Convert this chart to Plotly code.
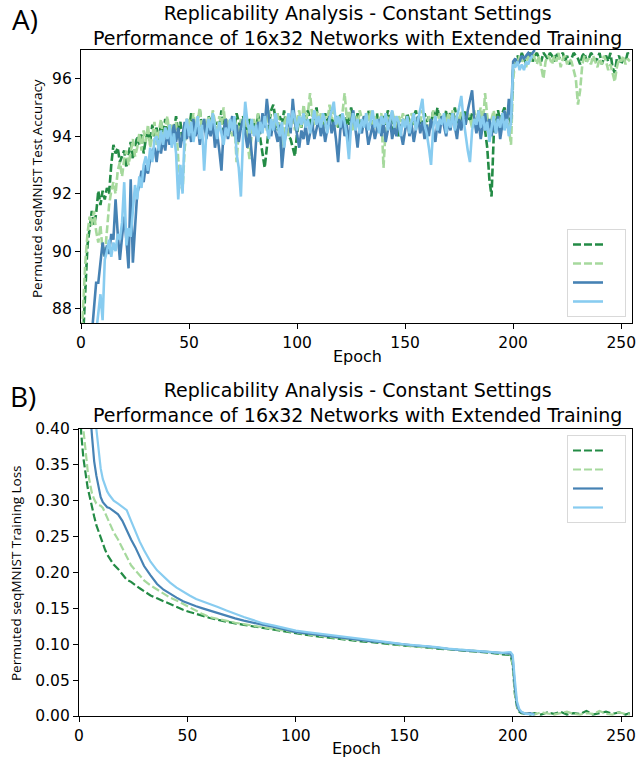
import plotly.graph_objects as go

# accuracy per epoch (0..254), None where the curve is not drawn
EPOCHS = list(range(255))

GREEN_DARK_ACC = [
    85.5, 87.0, 88.8, 90.2, 90.8, 91.4, 90.9, 91.3, 92.1, 91.6,
    92.1, 91.8, 92.2, 92.0, 93.0, 93.7, 93.4, 93.6, 93.1, 93.3,
    93.5, 92.9, 93.4, 93.8, 93.2, 93.6, 94.0, 93.7, 94.1, 93.4,
    93.9, 94.2, 93.8, 94.4, 94.0, 94.3, 93.7, 94.5, 94.1, 94.6,
    94.0, 94.4, 93.9, 94.2, 94.7, 94.1, 94.5, 93.8, 94.3, 94.6,
    94.2, 94.8, 94.4, 94.0, 94.6, 94.9, 94.3, 94.5, 94.1, 94.7,
    94.4, 94.8, 94.0, 94.5, 94.3, 94.9, 94.2, 94.6, 94.4, 94.1,
    94.6, 94.3, 94.8, 94.5, 94.2, 94.7, 94.4, 94.0, 94.6, 94.3,
    94.5, 94.1, 94.8, 93.9, 93.4, 92.9, 93.6, 94.4, 94.9, 95.1,
    94.6, 94.2, 94.7, 94.4, 94.9, 94.3, 94.0, 93.9, 93.6, 93.3,
    94.1, 94.6, 94.3, 94.8, 94.5, 94.9, 94.6, 94.2, 94.7, 95.0,
    94.4, 94.6, 94.3, 94.8, 94.5, 94.9, 94.6, 94.4, 94.7, 94.3,
    94.8, 94.5, 94.2, 94.7, 94.4, 95.0, 94.6, 94.3, 94.8, 94.5,
    94.2, 94.7, 94.5, 94.9, 94.4, 94.6, 94.3, 94.8, 94.1, 94.5,
    94.7, 94.4, 94.9, 94.6, 94.2, 94.7, 94.5, 94.0, 94.3, 94.6,
    94.4, 94.8, 94.5, 94.2, 94.7, 94.9, 94.4, 94.6, 94.3, 94.8,
    94.5, 94.7, 94.4, 94.9, 94.6, 95.0, 94.5, 94.7, 94.4, 94.9,
    94.6, 94.8, 94.5, 95.0, 94.6, 94.4, 94.8, 94.5, 94.9, 94.7,
    94.5, 94.8, 94.6, 94.3, 94.9, 94.4, 94.7, 94.2, 93.6, 92.5,
    91.9, 94.0, 94.6, 94.9, 94.5, 94.8, 95.0, 94.6, 94.9, 94.4,
    96.3, 96.7, 96.8, 96.6, 96.9, 96.7, 96.5, 96.8, 96.9, 96.6,
    96.8, 96.9, 96.7, 96.6, 96.9, 96.8, 96.7, 96.9, 96.8, 96.6,
    96.9, 96.7, 96.8, 96.9, 96.6, 96.8, 96.5, 96.7, 96.9, 96.8,
    96.7, 96.5, 96.8, 96.9, 96.6, 96.7, 96.9, 96.8, 96.6, 96.7,
    96.9, 96.5, 96.7, 96.8, 96.6, 96.9, 96.4, 96.2, 96.7, 96.8,
    96.5, 96.7, 96.6, 96.9, 96.8,
]

GREEN_LIGHT_ACC = [
    86.5, 88.2, 89.6, 90.6, 91.2, 90.9, 91.4, 90.7, 90.3, 90.9,
    90.0, 89.8, 90.6, 91.6, 92.1, 92.4, 92.0, 92.8, 93.1, 92.6,
    93.2, 93.5, 93.0, 93.4, 93.9, 93.3, 93.6, 94.1, 93.5, 94.2,
    93.8, 94.4, 93.6, 94.0, 94.5, 93.7, 94.2, 94.6, 93.9, 94.3,
    94.7, 94.0, 94.4, 93.8, 94.5, 93.2, 92.4, 92.1, 93.6, 94.2,
    94.6, 94.0, 94.8, 94.3, 94.5, 95.0, 94.2, 94.6, 94.1, 94.7,
    94.3, 94.9, 94.5, 94.1, 94.7, 94.4, 95.0, 94.2, 94.6, 94.3,
    94.0, 94.5, 93.1, 94.2, 94.6, 94.3, 94.8, 93.8, 93.2, 94.1,
    94.6, 94.3, 94.8, 94.1, 94.5, 94.7, 94.2, 94.9, 94.4, 94.6,
    94.3, 94.8, 94.1, 93.3, 94.4, 94.7, 94.0, 94.5, 94.8, 94.2,
    94.6, 94.9, 94.3, 95.1, 94.6, 94.8, 95.5, 94.7, 94.4, 94.9,
    94.5, 94.8, 94.2, 94.7, 94.4, 95.1, 94.6, 94.9, 94.3, 94.7,
    94.4, 94.8, 95.5, 94.6, 94.9, 94.5, 94.2, 94.7, 94.4, 94.9,
    94.6, 94.3, 94.8, 94.5, 94.9, 94.4, 94.7, 94.2, 94.6, 94.8,
    92.9, 94.3, 94.7, 94.4, 94.9, 94.6, 94.2, 94.7, 94.5, 94.8,
    94.4, 94.6, 94.1, 94.8, 94.5, 94.3, 94.7, 94.5, 94.9, 94.6,
    94.2, 94.7, 94.4, 94.9, 94.6, 94.3, 94.8, 94.5, 94.7, 94.4,
    94.8, 94.5, 94.9, 94.3, 94.7, 94.5, 94.9, 94.6, 94.4, 94.8,
    94.6, 94.3, 94.9, 94.5, 94.7, 95.0, 94.4, 95.5, 94.7, 94.3,
    94.6, 94.9, 94.4, 94.7, 94.2, 94.8, 94.5, 94.9, 94.3, 93.7,
    96.0, 96.6, 96.5, 96.8, 96.6, 96.7, 96.4, 96.8, 96.6, 96.9,
    96.7, 96.5, 96.8, 96.4, 96.0, 96.6, 96.8, 96.7, 96.5, 96.8,
    96.6, 96.9, 96.4, 96.7, 96.8, 96.5, 96.7, 96.6, 96.3, 96.0,
    95.1, 95.6, 96.5, 96.8, 96.6, 96.7, 96.5, 96.8, 96.6, 96.4,
    96.7, 96.5, 96.8, 96.6, 96.3, 96.5, 96.2, 95.9, 96.4, 96.7,
    96.6, 96.8, 96.5, 96.7, 96.6,
]

BLUE_DARK_ACC = [
    None, None, None, None, 86.5, 87.1, 88.0, 88.9, 88.9, 89.6,
    90.3, 89.8, 90.2, 89.9, 90.6, 90.4, 91.8, 90.6, 89.7, 90.5,
    91.2, 90.4, 89.4, 92.5, 89.6, 90.8, 92.0, 92.3, 92.8, 92.4,
    93.0, 92.7, 93.2, 93.5, 93.6, 93.1, 93.8, 93.4, 93.9, 93.5,
    94.2, 93.7, 94.0, 94.4, 93.8, 94.3, 93.6, 94.1, 94.5, 93.9,
    94.3, 93.8, 94.6, 94.0, 94.4, 93.7, 94.2, 94.6, 93.9, 94.3,
    94.0, 94.5, 93.6, 94.1, 93.5, 92.8, 94.2, 94.6, 93.9, 94.3,
    94.7, 94.0, 94.4, 93.8, 94.3, 94.6, 94.0, 93.6, 94.2, 93.4,
    92.6, 93.8, 94.5, 94.1, 94.8, 94.3, 95.3, 94.6, 94.0, 94.5,
    94.2, 93.8, 94.4, 92.9, 93.7, 94.3, 94.7, 94.1, 95.3, 94.5,
    94.0, 93.6, 94.2, 93.9, 94.4, 93.7, 94.1, 94.5, 93.9, 94.3,
    94.6, 94.0, 94.4, 93.8, 94.3, 94.7, 94.1, 94.5, 93.9, 93.1,
    94.2, 94.6, 94.0, 94.4, 93.8, 94.5, 94.9, 94.2, 93.6, 94.4,
    94.1, 94.7, 94.3, 93.7, 94.0, 94.4, 93.9, 94.3, 94.6, 94.0,
    94.5, 93.8, 94.2, 94.6, 93.9, 94.3, 94.0, 94.5, 94.1, 93.7,
    94.2, 94.6, 94.0, 94.4, 93.8, 94.3, 94.7, 94.1, 94.5, 93.9,
    94.4, 94.0, 94.6, 94.2, 93.8, 94.5, 94.1, 94.7, 94.3, 94.0,
    94.5, 94.2, 94.8, 94.3, 93.9, 94.6, 94.2, 94.8, 94.4, 94.9,
    95.2, 95.6, 94.6, 94.1, 94.5, 93.9, 94.4, 94.8, 94.2, 94.6,
    94.0, 94.5, 94.1, 94.7, 93.9, 94.4, 94.9, 94.3, 95.3, 94.6,
    96.6, 96.7, 96.5, 96.6, 96.8, 96.7, 96.8, 96.9, 96.8, 96.9,
    97.0,
]

BLUE_LIGHT_ACC = [
    None, None, None, None, None, None, 86.5, 87.2, 88.0, 88.5,
    87.6, 89.7, 90.0, 90.4, 89.8, 90.3, 90.0, 90.6, 90.4, 91.0,
    92.4, 90.2, 90.8, 90.5, 91.4, 92.3, 91.8, 92.6, 92.2, 93.0,
    93.3, 92.8, 93.6, 93.1, 93.9, 94.0, 93.5, 94.2, 93.7, 94.3,
    93.9, 94.4, 93.6, 94.1, 93.4, 91.8, 93.0, 92.0, 94.2, 94.6,
    94.0, 94.5, 93.8, 94.3, 94.7, 93.9, 94.4, 92.8, 94.1, 94.6,
    94.2, 94.8, 94.3, 93.9, 94.5, 94.1, 93.7, 94.3, 94.0, 94.6,
    94.2, 94.7, 93.4, 92.9, 91.9, 94.0, 95.2, 94.5, 94.1, 94.6,
    94.0, 94.4, 93.8, 94.5, 94.1, 94.7, 94.3, 93.9, 94.6, 94.2,
    94.8, 94.4, 94.0, 94.5, 93.6, 94.2, 94.8, 94.3, 94.9, 94.6,
    94.2, 94.7, 94.4, 94.8, 94.3, 94.6, 94.1, 94.5, 94.9, 94.4,
    94.7, 94.3, 94.8, 94.5, 94.1, 94.6, 94.9, 95.2, 94.4, 94.7,
    94.3, 94.8, 94.5, 94.0, 93.2, 94.4, 94.8, 94.2, 94.6, 94.1,
    94.6, 94.3, 94.8, 94.2, 94.5, 94.9, 94.3, 94.6, 94.1, 94.7,
    94.4, 94.8, 94.2, 94.6, 94.9, 94.3, 94.7, 94.5, 94.0, 94.6,
    94.3, 94.7, 94.1, 94.5, 94.8, 94.2, 94.6, 94.9, 95.3, 94.4,
    94.1, 93.6, 93.0, 94.3, 94.7, 94.2, 94.6, 94.4, 94.8, 94.1,
    94.6, 94.3, 94.8, 94.2, 94.7, 95.0, 95.4, 94.6, 94.0, 93.5,
    93.1, 94.2, 94.6, 94.4, 94.9, 94.3, 94.7, 94.2, 94.5, 93.8,
    94.3, 94.7, 94.1, 94.6, 94.3, 94.8, 94.2, 94.6, 94.0, 94.5,
    96.5, 96.4, 96.6, 96.3, 96.5, 96.3, 96.6, 96.5, 96.7, 96.8,
]

# training loss, sampled at these epochs
LOSS_EPOCHS = [
    0, 1, 2, 3, 4, 5, 6, 7, 8, 9, 10, 11, 12, 13, 14, 15, 16,
    18, 20, 22, 24, 26, 28, 30,
    33, 36, 39, 42, 45, 48, 51, 54, 57, 60,
    64, 68, 72, 76, 80,
    85, 90, 95, 100, 105, 110, 115, 120, 125, 130, 135, 140, 145, 150,
    155, 160, 165, 170, 175, 180, 185, 190, 195,
    199, 200, 201, 202, 203, 204, 206, 208, 210,
    213, 216, 219, 222, 225, 228, 231, 234, 237, 240, 243, 246, 249, 252, 254,
]

GREEN_DARK_LOSS = [
    0.48, 0.395, 0.36, 0.335, 0.318, 0.305, 0.29, 0.278, 0.266, 0.257,
    0.248, 0.24, 0.232, 0.225, 0.22, 0.215, 0.211,
    0.205, 0.198, 0.19, 0.187, 0.182, 0.178, 0.174,
    0.168, 0.164, 0.16, 0.156, 0.151, 0.148, 0.145, 0.142, 0.139, 0.137,
    0.134, 0.131, 0.129, 0.127, 0.125,
    0.122, 0.12, 0.117, 0.115, 0.113, 0.111, 0.109, 0.108, 0.106, 0.104,
    0.103, 0.101, 0.099, 0.098, 0.097, 0.095, 0.094, 0.093, 0.092, 0.09,
    0.089, 0.088, 0.086,
    0.085, 0.07, 0.03, 0.012, 0.006, 0.004, 0.003, 0.002, 0.004,
    0.002, 0.005, 0.003, 0.006, 0.002, 0.004, 0.003, 0.007, 0.002, 0.004,
    0.006, 0.003, 0.005, 0.002, 0.004,
]

GREEN_LIGHT_LOSS = [
    0.55, 0.45, 0.40, 0.365, 0.342, 0.325, 0.31, 0.302, 0.296, 0.294,
    0.293, 0.29, 0.283, 0.275, 0.268, 0.262, 0.256,
    0.246, 0.234, 0.221, 0.21, 0.203, 0.196, 0.189,
    0.182, 0.176, 0.17, 0.165, 0.161, 0.156, 0.151, 0.147, 0.142, 0.138,
    0.135, 0.132, 0.13, 0.128, 0.126,
    0.123, 0.121, 0.118, 0.116, 0.114, 0.112, 0.11, 0.109, 0.107, 0.105,
    0.104, 0.102, 0.1, 0.099, 0.097, 0.096, 0.095, 0.094, 0.092, 0.091,
    0.09, 0.089, 0.087,
    0.086, 0.072, 0.032, 0.013, 0.007, 0.005, 0.003, 0.004, 0.002,
    0.005, 0.003, 0.002, 0.004, 0.006, 0.003, 0.002, 0.004, 0.003, 0.007,
    0.003, 0.002, 0.005, 0.003, 0.002,
]

BLUE_DARK_LOSS = [
    None, None, None, 0.6, 0.5, 0.43, 0.39, 0.355, 0.335, 0.318,
    0.305, 0.298, 0.294, 0.291, 0.29, 0.288, 0.286,
    0.281, 0.272, 0.258, 0.246, 0.235, 0.222, 0.209,
    0.196, 0.184, 0.176, 0.17, 0.165, 0.16, 0.156, 0.153, 0.15, 0.147,
    0.143, 0.139, 0.136, 0.133, 0.13,
    0.127, 0.124, 0.12, 0.117, 0.115, 0.113, 0.111, 0.109, 0.107, 0.106,
    0.104, 0.103, 0.101, 0.099, 0.098, 0.097, 0.095, 0.094, 0.092, 0.091,
    0.09, 0.089, 0.087,
    0.087, 0.08, 0.04, 0.015, 0.008, 0.005, 0.003, 0.004, 0.002,
    None, None, None, None, None, None, None, None, None, None,
    None, None, None, None, None,
]

BLUE_LIGHT_LOSS = [
    None, None, None, None, None, 0.6, 0.5, 0.44, 0.40, 0.37,
    0.345, 0.33, 0.32, 0.313, 0.308, 0.304, 0.3,
    0.296, 0.292, 0.287, 0.272, 0.257, 0.243, 0.231,
    0.215, 0.203, 0.194, 0.186, 0.179, 0.173, 0.168, 0.163, 0.16, 0.157,
    0.152, 0.147, 0.142, 0.138, 0.134,
    0.129, 0.126, 0.122, 0.119, 0.117, 0.115, 0.113, 0.111, 0.109, 0.107,
    0.105, 0.104, 0.102, 0.1, 0.099, 0.097, 0.096, 0.094, 0.093, 0.092,
    0.09, 0.089, 0.088,
    0.089, 0.085, 0.05, 0.02, 0.01, 0.006, 0.003, 0.002, 0.002,
    None, None, None, None, None, None, None, None, None, None,
    None, None, None, None, None,
]

SERIES = [
    # (acc, loss, colour, dash)
    (GREEN_DARK_ACC, GREEN_DARK_LOSS, '#238b45', '8px,3px'),
    (GREEN_LIGHT_ACC, GREEN_LIGHT_LOSS, '#a6d99d', '8px,3px'),
    (BLUE_DARK_ACC, BLUE_DARK_LOSS, '#4682b4', 'solid'),
    (BLUE_LIGHT_ACC, BLUE_LIGHT_LOSS, '#88ccf0', 'solid'),
]

TITLE = ('Replicability Analysis - Constant Settings<br>'
         'Performance of 16x32 Networks with Extended Training')

W, H = 637, 759
TICK_FONT = dict(family='DejaVu Sans', size=15.5, color='black')
LABEL_FONT = dict(family='Open Sans', size=13.5, color='black')
BIG = dict(family='Open Sans', size=28, color='black')
TITLE_FONT = dict(family='DejaVu Sans', size=19, color='black')
EPOCH_FONT = dict(family='DejaVu Sans', size=16, color='black')
LEGEND_NAME = '\u00a0\u00a0\u00a0'


def px_x(v):
    return v / W


def px_y(v):
    return 1 - v / H


fig = go.Figure()
for acc, loss, colour, dash in SERIES:
    fig.add_trace(go.Scatter(
        x=EPOCHS[:len(acc)], y=acc, mode='lines', name=LEGEND_NAME,
        line=dict(color=colour, width=2.6, dash=dash),
        xaxis='x', yaxis='y', legend='legend',
    ))
for acc, loss, colour, dash in SERIES:
    fig.add_trace(go.Scatter(
        x=LOSS_EPOCHS, y=loss, mode='lines', name=LEGEND_NAME,
        line=dict(color=colour, width=2.2, dash=dash),
        xaxis='x2', yaxis='y2', legend='legend2',
    ))

axis_common = dict(
    showline=True, mirror=True, linecolor='black', linewidth=1.2,
    ticks='outside', ticklen=5, tickwidth=1.2, tickcolor='black',
    showgrid=False, zeroline=False, tickfont=TICK_FONT, automargin=False,
    ticklabeloverflow='allow',
)

legend_common = dict(
    bgcolor='white', bordercolor='#d9d9d9', borderwidth=1,
    font=dict(family='DejaVu Sans', size=12), tracegroupgap=0,
    xref='paper', yref='paper', xanchor='right',
)


def note(text, x, y, font, **kw):
    return dict(text=text, x=px_x(x), y=px_y(y), xref='paper', yref='paper',
                xanchor=kw.pop('xanchor', 'center'), yanchor='middle',
                showarrow=False, font=font, **kw)


annotations = [
    note('A)', 10, 19, BIG, xanchor='left'),
    note('B)', 8, 396, BIG, xanchor='left'),
    note(TITLE, 357, 26, TITLE_FONT),
    note(TITLE, 357, 402, TITLE_FONT),
    note('Epoch', 357, 356, EPOCH_FONT),
    note('Epoch', 356, 748, EPOCH_FONT),
    note('Permuted seqMNIST Test Accuracy', 37, 189, LABEL_FONT, textangle=-90),
    note('Permuted seqMNIST Training Loss', 16, 573, LABEL_FONT, textangle=-90),
]

fig.update_layout(
    width=W, height=H,
    margin=dict(l=0, r=0, t=0, b=0),
    paper_bgcolor='white', plot_bgcolor='white',
    showlegend=True,
    xaxis=dict(domain=[px_x(81), px_x(632)], range=[0, 255], anchor='y',
               tickvals=[0, 50, 100, 150, 200, 250], **axis_common),
    yaxis=dict(domain=[px_y(323), px_y(50)], range=[87.5, 97], anchor='x',
               tickvals=[88, 90, 92, 94, 96], **axis_common),
    xaxis2=dict(domain=[px_x(79), px_x(632)], range=[0, 255], anchor='y2',
                tickvals=[0, 50, 100, 150, 200, 250], **axis_common),
    yaxis2=dict(domain=[px_y(716), px_y(429)], range=[0, 0.4], anchor='x2',
                tickvals=[0, 0.05, 0.1, 0.15, 0.2, 0.25, 0.3, 0.35, 0.4],
                tickformat='.2f', **axis_common),
    legend=dict(x=px_x(626), y=px_y(317), yanchor='bottom', **legend_common),
    legend2=dict(x=px_x(626), y=px_y(435), yanchor='top', **legend_common),
    annotations=annotations,
)

# the page's default body margin would shift the figure
fig.write_html('out.html', config={'displayModeBar': False},
               post_script="document.body.style.margin = '0';")
